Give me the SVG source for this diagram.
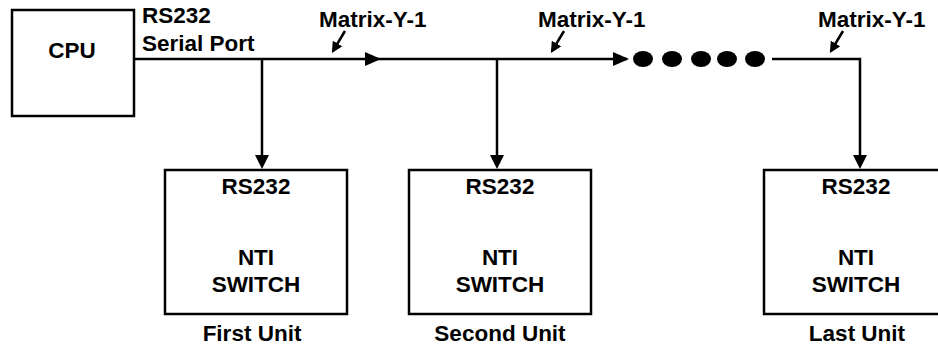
<svg xmlns="http://www.w3.org/2000/svg" width="938" height="346" viewBox="0 0 938 346">
<style>
.box{fill:#fff;stroke:#000;stroke-width:2.5}
.ln{fill:none;stroke:#000;stroke-width:2.5}
.t{font-family:"Liberation Sans",Arial,sans-serif;font-weight:bold;font-size:22.5px;fill:#000}
.c{text-anchor:middle}
</style>
<defs>
<marker id="ahs" viewBox="0 0 10 10" refX="8" refY="5" markerWidth="11" markerHeight="11" markerUnits="userSpaceOnUse" orient="auto">
<path d="M0,0 L10,5 L0,10 z" fill="#000"/>
</marker>
</defs>
<g id="cpu">
<rect class="box" x="12" y="10" width="122" height="106"/>
<text class="t c" x="72" y="58">CPU</text>
</g>
<g id="port-label">
<text class="t" x="142" y="23">RS232</text>
<text class="t" x="142" y="51">Serial Port</text>
</g>
<g id="unit1">
<rect class="box" x="165" y="170" width="182" height="144"/>
<text class="t c" x="256" y="194">RS232</text>
<text class="t c" x="256" y="265">NTI</text>
<text class="t c" x="256" y="292">SWITCH</text>
<text class="t c" x="252" y="341">First Unit</text>
</g>
<g id="unit2">
<rect class="box" x="409" y="170" width="182" height="144"/>
<text class="t c" x="500" y="194">RS232</text>
<text class="t c" x="500" y="265">NTI</text>
<text class="t c" x="500" y="292">SWITCH</text>
<text class="t c" x="500" y="341">Second Unit</text>
</g>
<g id="unit3">
<rect class="box" x="764" y="170" width="184" height="144"/>
<text class="t c" x="856" y="194">RS232</text>
<text class="t c" x="856" y="265">NTI</text>
<text class="t c" x="856" y="292">SWITCH</text>
<text class="t c" x="857" y="341">Last Unit</text>
</g>
<g id="connectors">
<path class="ln" d="M134,59 H627"/>
<path d="M365,52 L381,59 L365,66 z" fill="#000"/>
<path d="M613,52 L629,59 L613,66 z" fill="#000"/>
<path class="ln" d="M772,59 H860 V156"/>
<path class="ln" d="M262,59 V156"/>
<path class="ln" d="M497,59 V156"/>
<path d="M255,155 L269,155 L262,169 z" fill="#000"/>
<path d="M490,155 L504,155 L497,169 z" fill="#000"/>
<path d="M853,155 L867,155 L860,169 z" fill="#000"/>
<g id="dots" fill="#000">
<ellipse cx="643" cy="59" rx="10" ry="8"/>
<ellipse cx="672" cy="59" rx="10" ry="8"/>
<ellipse cx="701" cy="59" rx="10" ry="8"/>
<ellipse cx="727" cy="59" rx="10" ry="8"/>
<ellipse cx="755" cy="59" rx="10" ry="8"/>
</g>
<path class="ln" d="M345,31 L333,51" marker-end="url(#ahs)"/>
<path class="ln" d="M564,31 L552,51" marker-end="url(#ahs)"/>
<path class="ln" d="M843,31 L831,51" marker-end="url(#ahs)"/>
</g>
<g id="labels">
<text class="t" x="319" y="27">Matrix-Y-1</text>
<text class="t" x="538" y="27">Matrix-Y-1</text>
<text class="t" x="818" y="27">Matrix-Y-1</text>
</g>
</svg>
